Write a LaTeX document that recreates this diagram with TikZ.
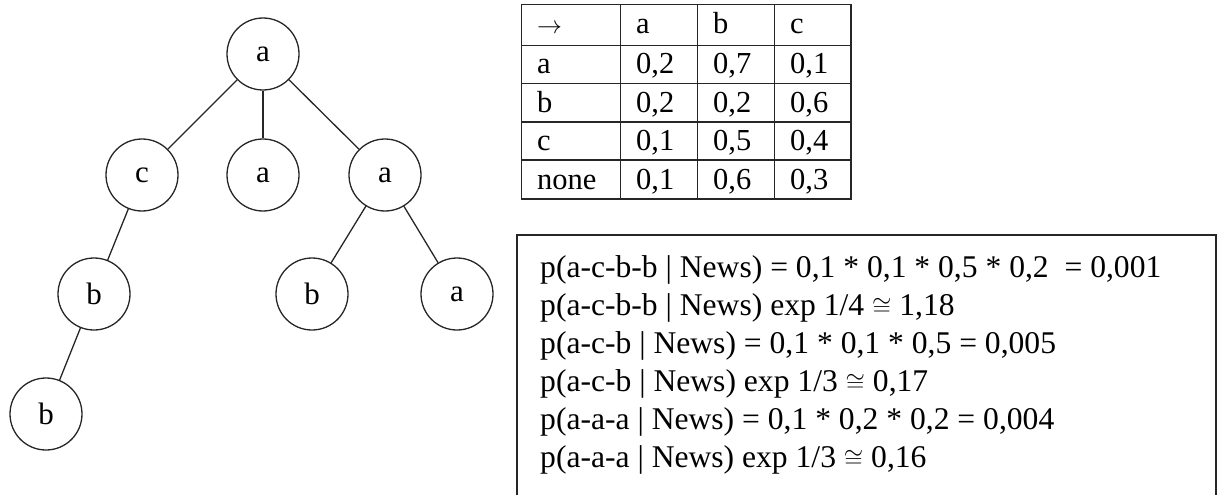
\documentclass[tikz,border=0pt]{standalone}
\usepackage{fontspec}
\setmainfont{Liberation Serif}
\begin{document}
\begin{tikzpicture}[x=1pt,y=-1pt,
  treenode/.style={circle,draw=black!85,line width=1.3pt,minimum size=72pt,inner sep=0pt,font=\fontsize{31}{36}\selectfont},
  edge/.style={draw=black!85,line width=1.3pt},
  grid/.style={draw=black!85,line width=1.3pt},
  cell/.style={anchor=base west,inner sep=0pt,font=\fontsize{30.5}{36}\selectfont},
  formula/.style={anchor=base west,inner sep=0pt,font=\fontsize{31.6}{38}\selectfont}]
\useasboundingbox (0,0) rectangle (1219,495);

% tree
\node[treenode] (r)  at (263,54)  {a};
\node[treenode] (c1) at (142,175) {c};
\node[treenode] (a1) at (263,175) {a};
\node[treenode] (a2) at (385,175) {a};
\node[treenode] (b1) at (94,294)  {b};
\node[treenode] (b2) at (312,294) {b};
\node[treenode] (a3) at (457,294) {a};
\node[treenode] (b3) at (46,414)  {b};
\draw[edge] (r) -- (c1);
\draw[edge] (r) -- (a1);
\draw[edge] (r) -- (a2);
\draw[edge] (c1) -- (b1);
\draw[edge] (b1) -- (b3);
\draw[edge] (a2) -- (b2);
\draw[edge] (a2) -- (a3);

% transition table
\draw[grid] (521.7,4.3) rectangle (851,199);
\foreach \xc in {620.7,697.7,774.7} \draw[grid] (\xc,4.3) -- (\xc,199);
\foreach \yr in {45.7,83.3,122,160} \draw[grid] (521.7,\yr) -- (851,\yr);
\node[cell] (h0) at (537,33.5) {$\rightarrow$};
\node[cell] (h1) at (636,33.5) {a};
\node[cell] (h2) at (713,33.5) {b};
\node[cell] (h3) at (790,33.5) {c};
\node[cell] (r10) at (537,73.5) {a};
\node[cell] (r11) at (636,73.5) {0,2};
\node[cell] (r12) at (713,73.5) {0,7};
\node[cell] (r13) at (790,73.5) {0,1};
\node[cell] (r20) at (537,112) {b};
\node[cell] (r21) at (636,112) {0,2};
\node[cell] (r22) at (713,112) {0,2};
\node[cell] (r23) at (790,112) {0,6};
\node[cell] (r30) at (537,150) {c};
\node[cell] (r31) at (636,150) {0,1};
\node[cell] (r32) at (713,150) {0,5};
\node[cell] (r33) at (790,150) {0,4};
\node[cell] (r40) at (537,189) {none};
\node[cell] (r41) at (636,189) {0,1};
\node[cell] (r42) at (713,189) {0,6};
\node[cell] (r43) at (790,189) {0,3};

% probability box (its lower edge runs past the page)
\draw[grid] (517,500) -- (517,235) -- (1216,235) -- (1216,500);
\node[formula] (f1) at (540,277) {p(a-c-b-b | News) = 0,1 * 0,1 * 0,5 * 0,2\ \ = 0,001};
\node[formula] (f2) at (540,315) {p(a-c-b-b | News) exp 1/4 $\cong$ 1,18};
\node[formula] (f3) at (540,353) {p(a-c-b | News) = 0,1 * 0,1 * 0,5 = 0,005};
\node[formula] (f4) at (540,391) {p(a-c-b | News) exp 1/3 $\cong$ 0,17};
\node[formula] (f5) at (540,429) {p(a-a-a | News) = 0,1 * 0,2 * 0,2 = 0,004};
\node[formula] (f6) at (540,467) {p(a-a-a | News) exp 1/3 $\cong$ 0,16};
\end{tikzpicture}
\end{document}
